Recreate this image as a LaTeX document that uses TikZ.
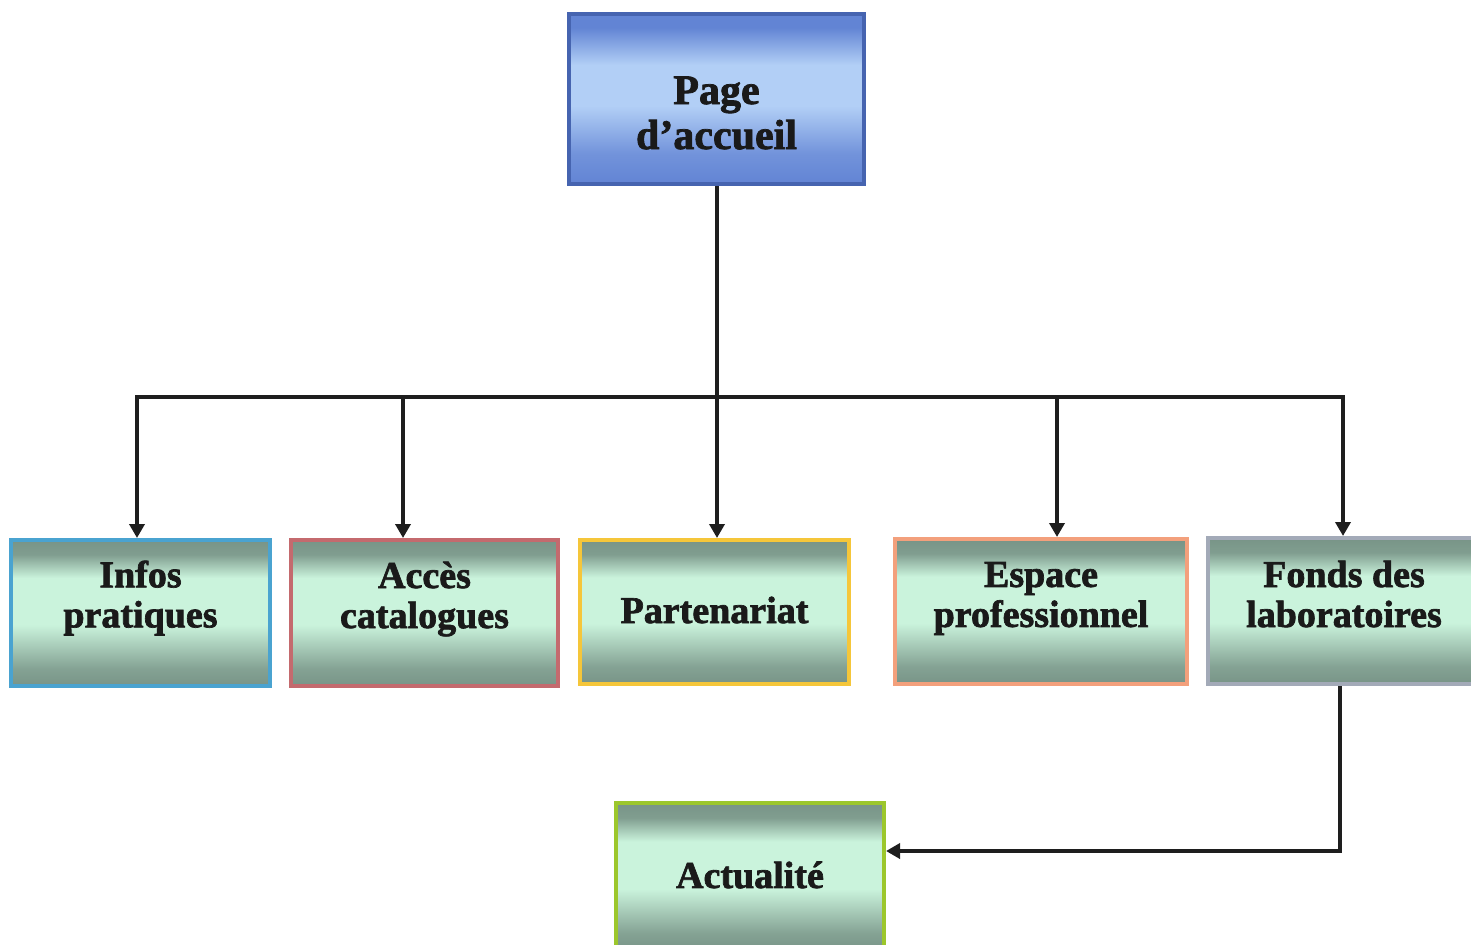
\documentclass[tikz,border=0pt]{standalone}
\usepackage{fontspec}
\setmainfont{Liberation Serif}[BoldFeatures={FakeBold=1.8}]
\usetikzlibrary{arrows.meta}
\definecolor{sg}{RGB}{120,148,135}
\definecolor{sl}{RGB}{202,243,220}
\definecolor{bd}{RGB}{98,132,212}
\definecolor{bl}{RGB}{178,207,246}
\definecolor{cTop}{RGB}{70,100,176}
\definecolor{cInfo}{RGB}{74,163,208}
\definecolor{cAcc}{RGB}{196,106,110}
\definecolor{cPart}{RGB}{245,198,58}
\definecolor{cEsp}{RGB}{243,160,124}
\definecolor{cFond}{RGB}{163,170,184}
\definecolor{cAct}{RGB}{156,199,44}
\definecolor{txt}{RGB}{26,26,26}
\definecolor{ln}{RGB}{30,30,30}
\pgfdeclareverticalshading{mintsh}{100bp}{color(0bp)=(sg); color(25bp)=(sg); color(31bp)=(sg!85!sl); color(46bp)=(sl); color(62bp)=(sl); color(70bp)=(sg!90!sl); color(75bp)=(sg); color(100bp)=(sg)}
\pgfdeclareverticalshading{bluesh}{100bp}{color(0bp)=(bd); color(25bp)=(bd); color(34bp)=(bd!80!bl); color(48bp)=(bl); color(60bp)=(bl); color(71bp)=(bd); color(75bp)=(bd); color(100bp)=(bd)}
\tikzset{
  boxm/.style={draw, line width=2pt, shading=mintsh, minimum height=73pt, inner sep=0pt},
  boxb/.style={draw=cTop, line width=2pt, shading=bluesh, inner sep=0pt},
  lbl/.style={font=\bfseries\fontsize{19}{20}\selectfont, align=center, text=txt, inner sep=0pt},
  lblbig/.style={font=\bfseries\fontsize{21}{22.5}\selectfont, align=center, text=txt, inner sep=0pt},
  conn/.style={draw=ln, line width=2pt},
  arr/.style={conn, -{Triangle[width=7.5pt,length=7pt]}}
}
\begin{document}
\begin{tikzpicture}[x=0.5pt,y=-0.5pt]
\useasboundingbox (0,0) rectangle (1471,944);
% boxes
\node[boxb, minimum width=147.5pt, minimum height=85pt] (top) at (716.5,99) {};
\node[boxm, draw=cInfo, minimum width=129.5pt] (infos) at (140.5,613) {};
\node[boxm, draw=cAcc, minimum width=133.5pt] (acces) at (424.5,613) {};
\node[boxm, draw=cPart, minimum width=134.5pt, minimum height=72pt] (part) at (714.5,612) {};
\node[boxm, draw=cEsp, minimum width=146pt, minimum height=72.5pt] (esp) at (1041,611.5) {};
\node[boxm, draw=cFond, minimum width=136pt] (fonds) at (1344,611) {};
\node[boxm, draw=cAct, minimum width=134pt, minimum height=74pt] (act) at (750,877) {};
% labels
\node[lblbig, yshift=-7pt] (ttop) at (top.center) {Page\\d’accueil};
\node[lbl, yshift=7.5pt] (tinfos) at (infos.center) {Infos\\pratiques};
\node[lbl, yshift=7pt] (tacces) at (acces.center) {Accès\\catalogues};
\node[lbl, yshift=1pt] (tpart) at (part.center) {Partenariat};
\node[lbl, yshift=6.5pt] (tesp) at (esp.center) {Espace\\professionnel};
\node[lbl, yshift=8.5pt] (tfonds) at (fonds.center) {Fonds des\\laboratoires};
\node[lbl, yshift=1pt] (tact) at (act.center) {Actualité};
% bus
\coordinate (b1) at (137,397);
\coordinate (b2) at (403,397);
\coordinate (b3) at (717,397);
\coordinate (b4) at (1057,397);
\coordinate (b5) at (1343,397);
\coordinate (fd) at (1340,851);
\draw[conn, line cap=rect] (b1) -- (b5);
\draw[arr] (top.south -| b3) -- (b3 |- part.north);
\draw[arr] (b1) -- (b1 |- infos.north);
\draw[arr] (b2) -- (b2 |- acces.north);
\draw[arr] (b4) -- (b4 |- esp.north);
\draw[arr] (b5) -- (b5 |- fonds.north);
\draw[arr] (fd |- fonds.south) -- (fd) -- (fd -| act.east);
\end{tikzpicture}
\end{document}
